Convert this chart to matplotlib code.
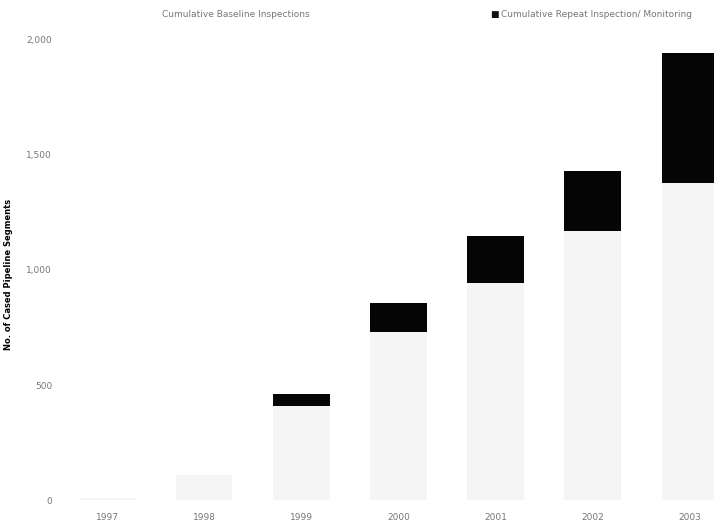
import numpy as np
import matplotlib
matplotlib.use('Agg')
import matplotlib.pyplot as plt

years = ['1997', '1998', '1999', '2000', '2001', '2002', '2003']
baseline = [10, 110, 410, 730, 945, 1170, 1375]
repeat = [0, 0, 50, 125, 200, 260, 565]

fig = plt.figure(figsize=(7.14, 5.26), dpi=100)
ax = fig.add_axes([0.112, 0.049, 0.888, 0.876])

x = np.arange(len(years))
ax.bar(x, baseline, width=0.58, color='#f5f5f5', label='Cumulative Baseline Inspections')
ax.bar(x, repeat, width=0.58, bottom=baseline, color='#050505',
       label='Cumulative Repeat Inspection/ Monitoring')

ax.set_xlim(-0.28, 6.25)
ax.set_ylim(0, 2000)
ax.set_yticks([0, 500, 1000, 1500, 2000])
ax.set_yticklabels(['0', '500', '1,000', '1,500', '2,000'])
ax.set_xticks(x)
ax.set_xticklabels(years)
ax.tick_params(axis='both', length=0, labelsize=6.5, labelcolor='#777777')
ax.tick_params(axis='y', pad=20)
ax.tick_params(axis='x', pad=9)
for s in ax.spines.values():
    s.set_visible(False)
ax.axhline(0, color='#e8e8e8', linewidth=0.8)

ax.set_ylabel('No. of Cased Pipeline Segments', fontsize=6, fontweight='bold',
              labelpad=6)
ax.yaxis.set_label_coords(-0.105, 0.49)

# legend entries placed as in the scan
fig.text(0.33, 0.972, 'Cumulative Baseline Inspections', fontsize=6.5,
         color='#777777', ha='center', va='center')
fig.text(0.686, 0.972, '\u25a0', fontsize=6.5, color='#111111', ha='left', va='center')
fig.text(0.702, 0.972, 'Cumulative Repeat Inspection/ Monitoring', fontsize=6.5,
         color='#777777', ha='left', va='center')

fig.savefig('out.png', dpi=100)
